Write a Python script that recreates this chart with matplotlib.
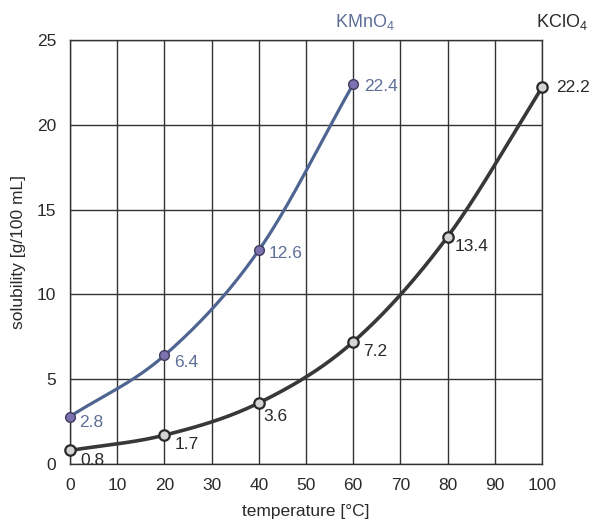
import matplotlib
matplotlib.use('Agg')
import matplotlib.pyplot as plt
import numpy as np

plt.rcParams['font.family'] = ['Liberation Sans', 'DejaVu Sans']
plt.rcParams['mathtext.fontset'] = 'custom'
plt.rcParams['mathtext.rm'] = 'Liberation Sans'
plt.rcParams['mathtext.it'] = 'Liberation Sans'

# data
temp_kmno4 = [0, 20, 40, 60]
sol_kmno4 = [2.8, 6.4, 12.6, 22.4]
temp_kclo4 = [0, 20, 40, 60, 80, 100]
sol_kclo4 = [0.8, 1.7, 3.6, 7.2, 13.4, 22.2]
x_ticks = [0, 10, 20, 30, 40, 50, 60, 70, 80, 90, 100]
y_ticks = [0, 5, 10, 15, 20, 25]

# label offsets in pixels (style only)
off_kmno4 = [(9, -6), (10, -7), (10, -3), (11, -2)]
off_kclo4 = [(10, -10), (10, -9), (5, -14), (10, -10), (7, -10), (14, 0)]

BLUE = '#4f6591'
BLUE_TXT = '#5d6f97'
PURPLE = '#7d72b0'
DARK = '#383838'
TXT = '#2a2a2a'
FS = 12.5


def smooth(xs, ys, n=200):
    # cubic hermite through the points, tangents by finite differences
    xs = np.asarray(xs, float); ys = np.asarray(ys, float)
    m = np.gradient(ys, xs)
    xx, yy = [], []
    for i in range(len(xs) - 1):
        h = xs[i + 1] - xs[i]
        t = np.linspace(0, 1, n)
        h00 = 2*t**3 - 3*t**2 + 1
        h10 = t**3 - 2*t**2 + t
        h01 = -2*t**3 + 3*t**2
        h11 = t**3 - t**2
        xx.append(xs[i] + t*h)
        yy.append(h00*ys[i] + h10*h*m[i] + h01*ys[i+1] + h11*h*m[i+1])
    return np.concatenate(xx), np.concatenate(yy)


fig = plt.figure(figsize=(5.9, 5.19), dpi=100)
ax = fig.add_axes([70/590, 55/519, 472/590, 424/519])
ax.set_xlim(0, 100); ax.set_ylim(0, 25)
ax.set_xticks(x_ticks); ax.set_yticks(y_ticks)
ax.grid(True, color='#333333', lw=1.0)
ax.set_axisbelow(True)
for s in ax.spines.values():
    s.set_color('#333333'); s.set_linewidth(1.0)
ax.tick_params(length=0, labelsize=FS, pad=10, colors=TXT)
ax.set_xlabel('temperature [°C]', fontsize=FS, labelpad=8, color=TXT)
ax.set_ylabel('solubility [g/100 mL]', fontsize=FS, labelpad=8, color=TXT)

sx, sy = smooth(temp_kmno4, sol_kmno4)
ax.plot(sx, sy, color=BLUE, lw=2.3, clip_on=False, zorder=3)
ax.plot(temp_kmno4, sol_kmno4, 'o', ms=7, mfc=PURPLE, mec='#3d3d5c', mew=1.0,
        clip_on=False, zorder=4)
for x, y, o in zip(temp_kmno4, sol_kmno4, off_kmno4):
    ax.annotate(f'{y}', (x, y), xytext=o, textcoords='offset pixels',
                ha='left', va='center', fontsize=FS, color=BLUE_TXT)

sx, sy = smooth(temp_kclo4, sol_kclo4)
ax.plot(sx, sy, color=DARK, lw=2.6, clip_on=False, zorder=3)
ax.plot(temp_kclo4, sol_kclo4, 'o', ms=7.5, mfc='#d4d4d4', mec='#2a2a2a', mew=1.6,
        clip_on=False, zorder=4)
for x, y, o in zip(temp_kclo4, sol_kclo4, off_kclo4):
    ax.annotate(f'{y}', (x, y), xytext=o, textcoords='offset pixels',
                ha='left', va='center', fontsize=FS, color=TXT)

fig.text(365/590, 1 - 22/519, 'KMnO$_4$', ha='center', va='center',
         fontsize=13, color=BLUE_TXT)
fig.text(562/590, 1 - 22/519, 'KClO$_4$', ha='center', va='center',
         fontsize=13, color=TXT)

fig.savefig('out.png', dpi=100, facecolor='white')
